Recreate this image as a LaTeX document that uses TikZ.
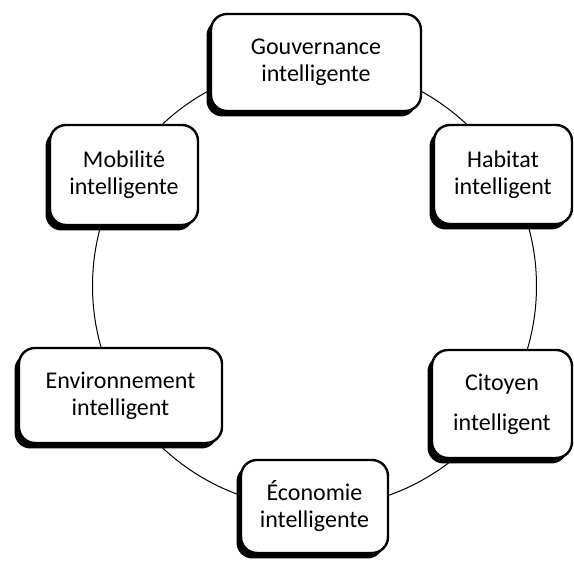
\documentclass[tikz,border=0pt]{standalone}
\usepackage{fontspec}
\setmainfont{Carlito}
\usetikzlibrary{shadows}

\begin{document}
\begin{tikzpicture}[x=1pt, y=1pt,
    smartbox/.style={draw, line width=2.4pt, fill=white, rounded corners=16pt, align=center,
      font=\fontsize{24}{27}\selectfont,
      drop shadow={shadow xshift=-4.5pt, shadow yshift=-5.5pt, fill=black, opacity=1}}]
    \useasboundingbox (0,0) rectangle (574,561);

    % ring behind the boxes
    \node[circle, draw, line width=1pt, minimum size=444pt, inner sep=0pt] (ring) at (314.5,275) {};

    \node[smartbox, minimum width=210pt, minimum height=97pt] (gouvernance) at (316,498.5) {Gouvernance\\intelligente};
    \node[smartbox, minimum width=138pt, minimum height=99pt] (habitat) at (503,386.5) {Habitat\\intelligent};
    \node[smartbox, minimum width=148pt, minimum height=100pt] (mobilite) at (124,386) {Mobilité\\intelligente};
    \node[smartbox, minimum width=203pt, minimum height=95pt] (environnement) at (120.5,165.5) {Environnement\\intelligent};
    \node[smartbox, minimum width=140pt, minimum height=108pt] (citoyen) at (502,157) {Citoyen\\[13pt]intelligent};
    \node[smartbox, minimum width=147pt, minimum height=93pt] (economie) at (314.5,54.5) {Économie\\intelligente};
\end{tikzpicture}
\end{document}
